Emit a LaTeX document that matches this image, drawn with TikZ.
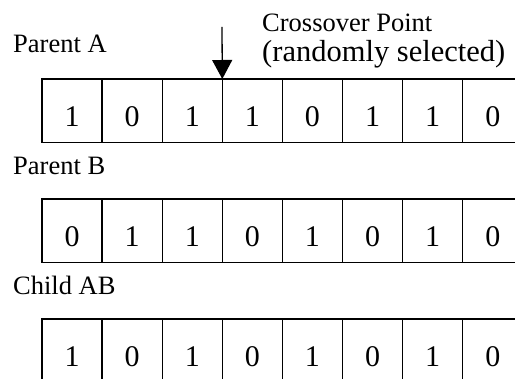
\documentclass[tikz,border=0pt]{standalone}
\usepackage{fontspec}
\setmainfont{Liberation Serif}
\usepackage{tikz}
\usetikzlibrary{arrows.meta}
\usetikzlibrary{positioning}

\begin{document}
\begin{tikzpicture}[x=1pt,y=1pt]
    \newcommand{\cellheight}[0]{63.5pt}
    \newcommand{\cellwidth}[0]{60.1pt}

    \tikzstyle{pointer} = [line width=1.3pt,-{Triangle[width=20pt,length=19pt]},draw=black]

    \tikzstyle{bitcell}=[
      rectangle,
      draw=black,
      line width=1.3pt,
      anchor=north west,
      outer sep=0pt,
      inner sep=0pt,
      minimum height=\cellheight,
      minimum width=\cellwidth,
      text height=31pt,
      text depth=0pt,
      font=\fontsize{30}{34}\selectfont,
    ]
    \tikzstyle{rowlabel}=[
      anchor=base west,
      inner sep=0pt,
      font=\fontsize{26.5}{26.5}\selectfont,
    ]

    \useasboundingbox (0,0) rectangle (515,-379);
    \clip (0,0) rectangle (515,-379);

    % parent A
    \node[rowlabel] (labela) at (13,-53) {Parent A};
    \node[bitcell] (a1) at (42,-79) {1};
    \node[bitcell,right=0pt of a1] (a2) {0};
    \node[bitcell,right=0pt of a2] (a3) {1};
    \node[bitcell,right=0pt of a3] (a4) {1};
    \node[bitcell,right=0pt of a4] (a5) {0};
    \node[bitcell,right=0pt of a5] (a6) {1};
    \node[bitcell,right=0pt of a6] (a7) {1};
    \node[bitcell,right=0pt of a7] (a8) {0};

    % parent B
    \node[rowlabel] (labelb) at (13,-175) {Parent B};
    \node[bitcell] (b1) at (42,-199) {0};
    \node[bitcell,right=0pt of b1] (b2) {1};
    \node[bitcell,right=0pt of b2] (b3) {1};
    \node[bitcell,right=0pt of b3] (b4) {0};
    \node[bitcell,right=0pt of b4] (b5) {1};
    \node[bitcell,right=0pt of b5] (b6) {0};
    \node[bitcell,right=0pt of b6] (b7) {1};
    \node[bitcell,right=0pt of b7] (b8) {0};

    % child AB
    \node[rowlabel] (labelc) at (13,-295) {Child AB};
    \node[bitcell] (c1) at (42,-319) {1};
    \node[bitcell,right=0pt of c1] (c2) {0};
    \node[bitcell,right=0pt of c2] (c3) {1};
    \node[bitcell,right=0pt of c3] (c4) {0};
    \node[bitcell,right=0pt of c4] (c5) {1};
    \node[bitcell,right=0pt of c5] (c6) {0};
    \node[bitcell,right=0pt of c6] (c7) {1};
    \node[bitcell,right=0pt of c7] (c8) {0};

    % crossover point
    \node[rowlabel] (crosslabel) at (262,-32) {Crossover Point};
    \node[rowlabel,font=\fontsize{30.5}{30.5}\selectfont] (crossnote) at (262,-62) {(randomly selected)};
    \coordinate (droptop) at (222,-27);
    \draw[pointer] (droptop) -- (a4.north west);
\end{tikzpicture}
\end{document}
